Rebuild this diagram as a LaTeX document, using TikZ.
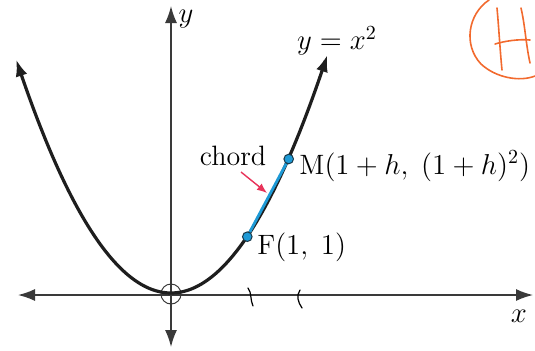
\documentclass[tikz,border=0pt]{standalone}
\usetikzlibrary{arrows.meta}
\definecolor{axisgray}{HTML}{3A3A3A}
\definecolor{curveink}{HTML}{1E1E1E}
\definecolor{chordblue}{HTML}{1E9AD6}
\definecolor{dotedge}{HTML}{1A3A4A}
\definecolor{arrowred}{HTML}{E8335A}
\definecolor{inkorange}{HTML}{F26A2E}
\tikzset{bigtip/.tip={Latex[length=8.5pt,width=6pt]}}
\begin{document}
\begin{tikzpicture}[x=0.5pt,y=-0.5pt,
  every node/.style={font=\fontsize{14}{16}\selectfont, inner sep=0pt},
  axisline/.style={draw=axisgray, line width=0.75pt},
  curveline/.style={draw=curveink, line width=1.6pt},
  chordline/.style={draw=chordblue, line width=1.4pt},
  ptdot/.style={circle, fill=chordblue, draw=dotedge, line width=0.5pt, minimum size=4.8pt, inner sep=0pt},
  redarrow/.style={draw=arrowred, line width=0.7pt, -{Latex[length=5pt,width=4pt]}},
  handink/.style={draw=inkorange, line width=0.8pt, line cap=round, line join=round},
  tickink/.style={draw=black, line width=0.6pt, line cap=round}]
\useasboundingbox (0,0) rectangle (535,350);

% axes
\coordinate (xl) at (18,295);
\coordinate (xr) at (533,295);
\coordinate (yb) at (171,347);
\coordinate (yt) at (171,6);
\draw[axisline, bigtip-bigtip] (xl) -- (xr);
\draw[axisline, bigtip-bigtip] (yb) -- (yt);
\node (ylab) at (186,19) {$y$};
\node (xlab) at (519,316) {$x$};

% origin circle
\node[circle, draw=axisgray, line width=0.5pt, minimum size=10pt] (O) at (171,294) {};

% parabola
\draw[curveline, bigtip-bigtip] plot[domain=-2.03:2.05, samples=90, smooth] ({171+76.3*\x},{293-56.7*\x*\x});
\node (eq) at (337,41) {$y = x^2$};

% chord
\node[ptdot] (F) at (247.3,236.7) {};
\node[ptdot] (M) at (288.7,159) {};
\draw[chordline] (F) -- (M);
\node[anchor=west] (Flab) at (257,247) {F$(1,\;1)$};
\node[anchor=west] (Mlab) at (299,166) {M$(1 + h,\;(1 + h)^2)$};
\node (chordlab) at (233,156) {chord};
\coordinate (ra) at (241,172);
\coordinate (rb) at (267,193);
\draw[redarrow] (ra) -- (rb);

% hand-drawn tick marks
\draw[tickink] (248,288) .. controls (252,293) and (250,300) .. (253,306);
\draw[tickink] (300,290) .. controls (296,296) and (298,302) .. (302,308);

% hand-drawn circled H
\draw[handink] (489,0) .. controls (468,14) and (463,45) .. (481,64)
  .. controls (496,78) and (520,82) .. (535,76);
\draw[handink] (497,8) .. controls (499,30) and (500,50) .. (502,70);
\draw[handink] (521,8) .. controls (525,25) and (526,45) .. (530,63);
\draw[handink] (495,44) .. controls (505,41) and (518,39) .. (530,40);
\end{tikzpicture}
\end{document}
